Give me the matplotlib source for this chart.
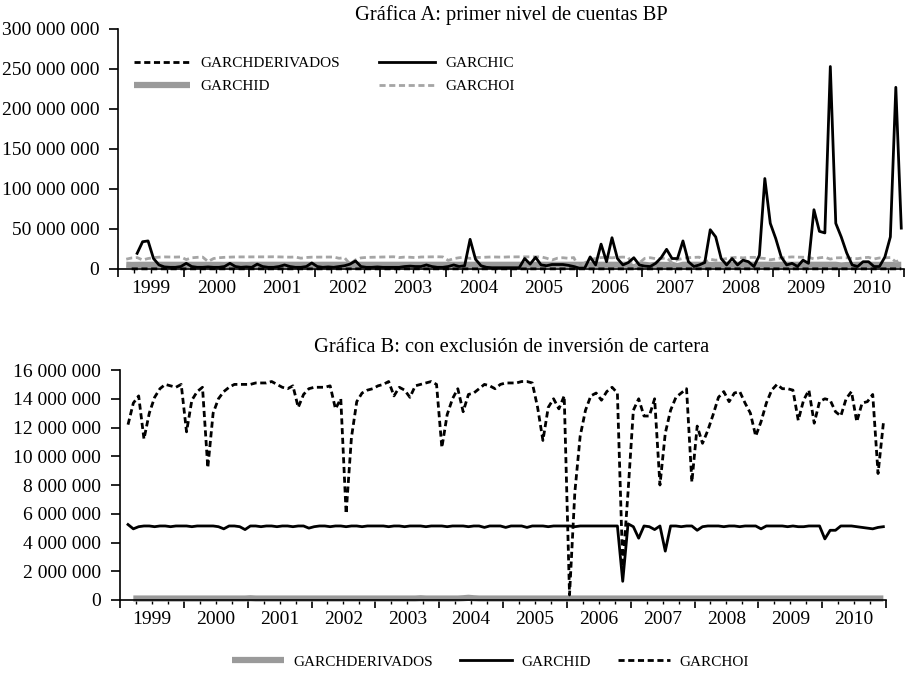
import matplotlib
matplotlib.use("Agg")
import matplotlib.pyplot as plt
import numpy as np
from matplotlib.ticker import FuncFormatter, MultipleLocator

plt.rcParams['font.family'] = ['Liberation Serif', 'DejaVu Serif']

nan = np.nan
years = [str(y) for y in range(1999, 2011)]
# month index, 0 = January 1999; data run from February 1999 to December 2010
months = np.arange(1, 144)

# values in millions
garchoi = [12.2, 13.7, 14.2, 11.2, 13.0, 14.1, 14.7, 15.0, 14.9, 14.8, 15.0,
           11.7, 13.9, 14.5, 14.8, 9.2, 13.0, 14.0, 14.5, 14.8, 15.0, 15.0, 15.0,
           15.0, 15.1, 15.1, 15.1, 15.2, 15.0, 14.8, 14.7, 14.9, 13.4, 14.3, 14.7,
           14.8, 14.8, 14.8, 14.9, 13.3, 14.0, 6.0, 11.3, 13.8, 14.4, 14.6, 14.7,
           14.9, 15.0, 15.2, 14.2, 14.8, 14.6, 14.1, 14.9, 15.0, 15.1, 15.2, 15.0,
           10.6, 12.9, 14.0, 14.7, 13.1, 14.3, 14.4, 14.7, 15.0, 14.9, 14.7, 15.0,
           15.1, 15.1, 15.1, 15.2, 15.2, 15.1, 13.4, 11.1, 13.4, 14.0, 13.3, 14.2,
           0.35, 7.5, 11.4, 13.2, 14.2, 14.4, 13.9, 14.5, 14.8, 14.4, 2.3, 7.5,
           13.2, 14.0, 12.8, 12.8, 14.0, 8.0, 11.6, 13.2, 14.1, 14.4, 14.7, 8.2,
           12.1, 10.9, 11.8, 12.9, 14.1, 14.5, 13.8, 14.4, 14.5, 13.7, 13.0, 11.4,
           12.4, 13.7, 14.6, 15.0, 14.7, 14.7, 14.6, 12.5, 13.9, 14.6, 12.3, 13.8,
           14.0, 13.9, 13.1, 12.8, 14.0, 14.5, 12.4, 13.7, 13.8, 14.3, 8.8, 12.3]

garchid = [5.25, 4.95, 5.1, 5.15, 5.15, 5.1, 5.15, 5.15, 5.1, 5.15, 5.15,
           5.15, 5.1, 5.15, 5.15, 5.15, 5.15, 5.1, 4.95, 5.15, 5.15, 5.1, 4.9,
           5.15, 5.15, 5.1, 5.15, 5.15, 5.1, 5.15, 5.15, 5.1, 5.15, 5.15, 5.0,
           5.1, 5.15, 5.15, 5.1, 5.15, 5.15, 5.1, 5.15, 5.15, 5.1, 5.15, 5.15,
           5.15, 5.15, 5.1, 5.15, 5.15, 5.1, 5.15, 5.15, 5.15, 5.1, 5.15, 5.15,
           5.15, 5.1, 5.15, 5.15, 5.15, 5.1, 5.15, 5.15, 5.05, 5.15, 5.15, 5.15,
           5.05, 5.15, 5.15, 5.15, 5.05, 5.15, 5.15, 5.15, 5.1, 5.15, 5.15, 5.15,
           5.15, 5.1, 5.15, 5.15, 5.15, 5.15, 5.15, 5.15, 5.15, 5.15, 1.3, 5.3,
           5.1, 4.3, 5.15, 5.1, 4.9, 5.15, 3.4, 5.15, 5.15, 5.1, 5.15, 5.15,
           4.85, 5.1, 5.15, 5.15, 5.15, 5.1, 5.15, 5.15, 5.1, 5.15, 5.15, 5.15,
           4.95, 5.15, 5.15, 5.15, 5.15, 5.1, 5.15, 5.1, 5.1, 5.15, 5.15, 5.15,
           4.25, 4.85, 4.85, 5.15, 5.15, 5.15, 5.1, 5.05, 5.0, 4.95, 5.05, 5.1]

garchderivados = [nan, 0.1, 0.1, 0.1, 0.1, 0.1, 0.1, 0.1, 0.1, 0.1, 0.1,
                  0.1, 0.1, 0.1, 0.1, 0.1, 0.1, 0.1, 0.1, 0.1, 0.1, 0.1, 0.1,
                  0.12, 0.1, 0.1, 0.1, 0.1, 0.1, 0.1, 0.1, 0.1, 0.1, 0.1, 0.1,
                  0.1, 0.1, 0.1, 0.1, 0.1, 0.1, 0.1, 0.1, 0.1, 0.1, 0.1, 0.1,
                  0.1, 0.1, 0.1, 0.1, 0.1, 0.1, 0.1, 0.1, 0.12, 0.1, 0.1, 0.1,
                  0.1, 0.1, 0.1, 0.1, 0.12, 0.15, 0.12, 0.1, 0.1, 0.1, 0.1, 0.1,
                  0.1, 0.1, 0.1, 0.1, 0.1, 0.1, 0.1, 0.1, 0.1, 0.1, 0.1, 0.1,
                  0.1, 0.1, 0.1, 0.1, 0.1, 0.1, 0.1, 0.1, 0.1, 0.1, 0.1, 0.1,
                  0.1, 0.1, 0.1, 0.1, 0.1, 0.1, 0.1, 0.1, 0.1, 0.1, 0.1, 0.1,
                  0.1, 0.1, 0.1, 0.1, 0.1, 0.1, 0.1, 0.1, 0.1, 0.1, 0.1, 0.1,
                  0.1, 0.1, 0.1, 0.1, 0.1, 0.1, 0.1, 0.1, 0.1, 0.1, 0.1, 0.1,
                  0.1, 0.1, 0.1, 0.1, 0.1, 0.1, 0.1, 0.1, 0.1, 0.1, 0.1, 0.1]

garchic = [nan, nan, 19.5, 34, 35, 13, 5, 2.5, 2, 2, 3,
           7, 3, 2, 2, 2.5, 2, 2, 3, 7, 3, 2, 2.5,
           2, 6, 3, 2, 2, 3, 5, 3, 2, 2, 3, 7.5,
           3, 2, 2.5, 2, 3, 4, 6, 10, 3, 2, 2, 2.5,
           2, 2, 2, 2, 3, 3.5, 3, 3, 5, 3, 2, 2,
           3, 5, 3, 4, 37, 12, 4, 2, 1.5, 1.5, 1.5, 1.5,
           1.5, 1.5, 13, 6, 14.5, 5, 4, 5.5, 5.5, 5.5, 4.5, 3,
           1, 1, 15, 5, 31, 9, 39, 13, 5, 8, 14, 5,
           3.5, 3, 7, 14, 24.5, 13, 13, 35, 9, 3, 5, 8,
           49, 40, 13, 5, 13, 5, 11, 9, 3, 17, 113, 57,
           38, 15, 5, 7, 3, 11, 7, 74, 47, 45, 253, 57,
           40, 20, 5, 3, 9, 9, 3, 3, 15, 40, 227, 51]

x = months + 0.5
oi = np.array(garchoi) * 1e6
idd = np.array(garchid) * 1e6
der = np.array(garchderivados) * 1e6
ic = np.array(garchic) * 1e6

GRAY = "#9a9a9a"


def miles(v, pos):
    return f"{int(round(v)):,}".replace(",", " ")


def style_axis(ax, ymax, ystep):
    ax.set_xlim(0, 144)
    ax.set_ylim(0, ymax)
    ax.yaxis.set_major_locator(MultipleLocator(ystep))
    ax.yaxis.set_major_formatter(FuncFormatter(miles))
    ax.set_xticks(np.arange(0, 145, 12))
    ax.set_xticklabels([])
    q = [m for m in range(3, 144, 3) if m % 12]
    ax.set_xticks(q, minor=True)
    ax.set_xticklabels([years[m // 12] if m % 12 == 6 else "" for m in q], minor=True)
    ax.tick_params(axis='x', which='major', length=6, width=1.2, direction='out')
    ax.tick_params(axis='x', which='minor', length=3, width=1, labelsize=14, pad=5)
    ax.tick_params(axis='y', length=6.5, width=1.2, labelsize=14, pad=7)
    for s in ['top', 'right']:
        ax.spines[s].set_visible(False)
    for s in ['left', 'bottom']:
        ax.spines[s].set_linewidth(1.2)


fig = plt.figure(figsize=(9.08, 6.74), dpi=100)

# Gráfica A
ax1 = fig.add_axes([0.130, 0.601, 0.8656, 0.3561])
ax1.plot(x, idd, color=GRAY, lw=4.5, solid_capstyle='butt', label="GARCHID", zorder=2)
ax1.plot(x, oi, color="#a5a5a5", lw=2, dashes=(2.2, 1.3), label="GARCHOI", zorder=3)
ax1.plot(x, ic, color="black", lw=2, label="GARCHIC", zorder=4)
ax1.plot(x, der, color="black", lw=2, dashes=(2.2, 1.3), label="GARCHDERIVADOS",
         zorder=5, clip_on=False)
style_axis(ax1, 300e6, 50e6)
h, l = ax1.get_legend_handles_labels()
order = [3, 0, 2, 1]
ax1.legend([h[i] for i in order], [l[i] for i in order], ncol=2, frameon=False,
           loc='upper left', bbox_to_anchor=(0.012, 0.91), fontsize=11,
           handlelength=3.7, handletextpad=0.7, columnspacing=2.5, labelspacing=0.6,
           borderaxespad=0)
fig.text(0.563, 0.978, "Gráfica A: primer nivel de cuentas BP", ha='center',
         va='center', fontsize=14.8)

# Gráfica B
ax2 = fig.add_axes([0.1322, 0.1098, 0.8436, 0.3412])
ax2.plot(x, der, color=GRAY, lw=4.5, solid_capstyle='butt', label="GARCHDERIVADOS",
         clip_on=False, zorder=2)
ax2.plot(x, idd, color="black", lw=2, label="GARCHID", zorder=3)
ax2.plot(x, oi, color="black", lw=2, dashes=(2.2, 1.3), label="GARCHOI", zorder=4)
style_axis(ax2, 16e6, 2e6)
fig.text(0.564, 0.4837, "Gráfica B: con exclusión de inversión de cartera",
         ha='center', va='center', fontsize=14.8)
h2, l2 = ax2.get_legend_handles_labels()
fig.legend(h2, l2, ncol=3, frameon=False, loc='center', bbox_to_anchor=(0.54, 0.018),
           fontsize=11, handlelength=3.4, handletextpad=0.6, columnspacing=1.8)

fig.savefig("out.png", dpi=100)
